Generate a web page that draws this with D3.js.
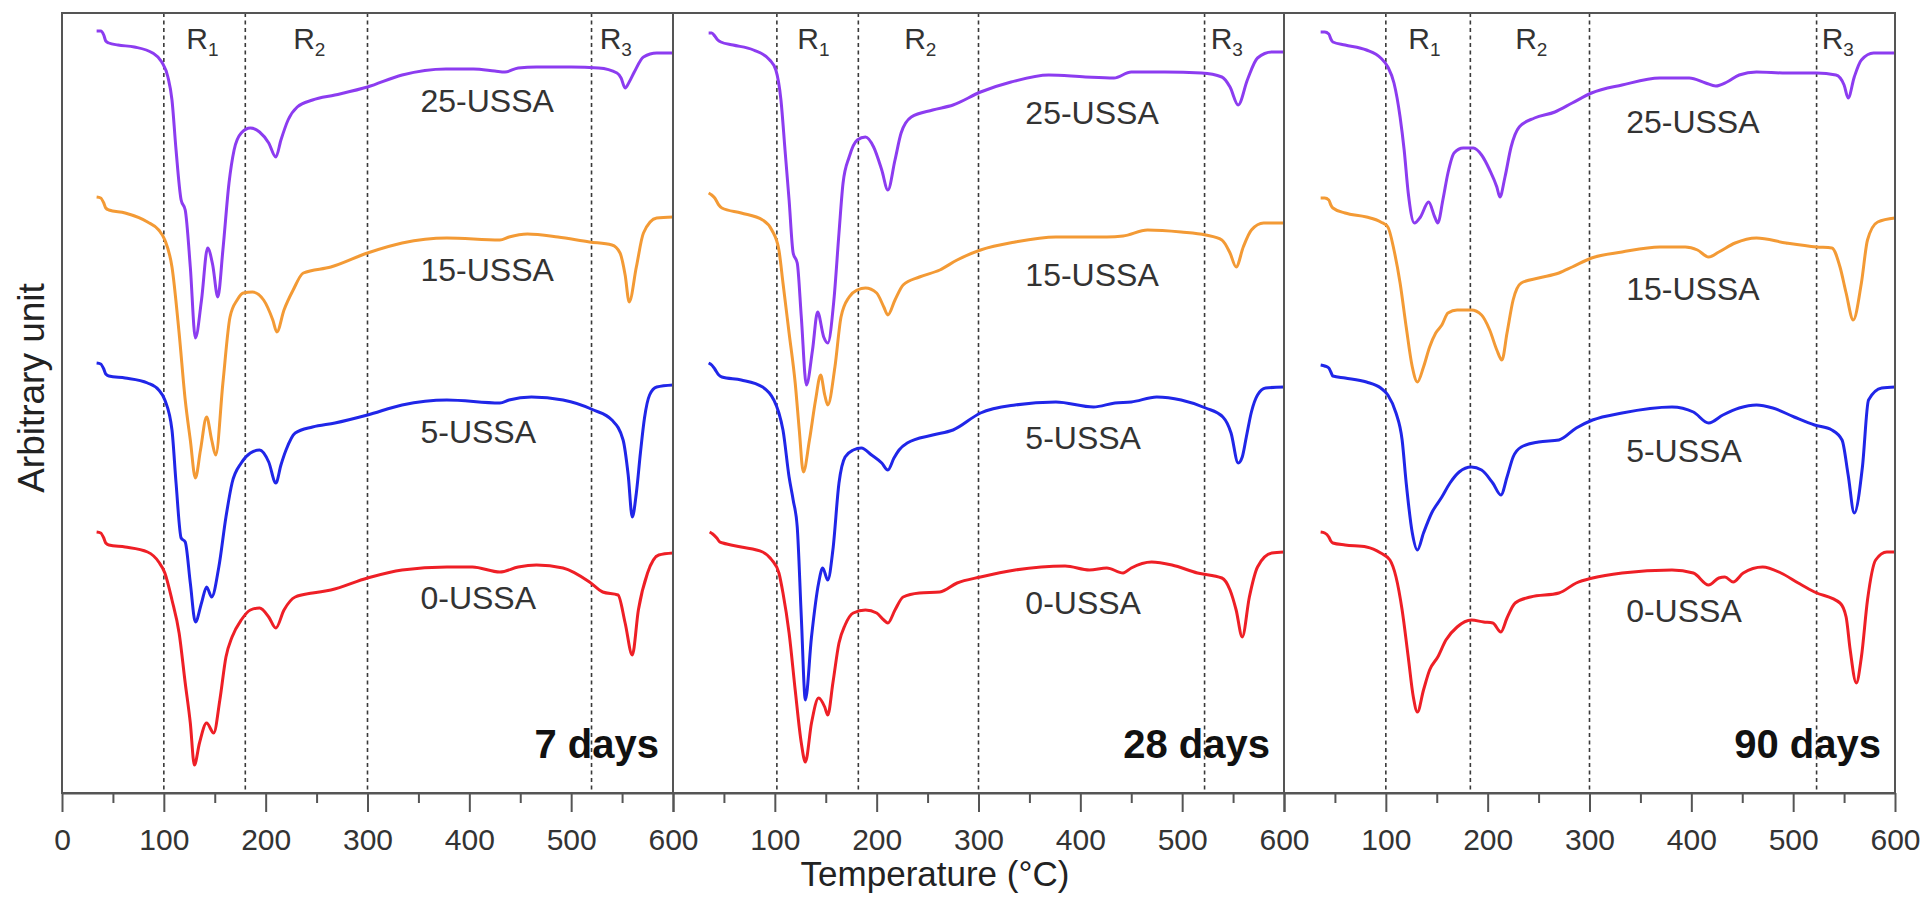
<!DOCTYPE html>
<html>
<head>
<meta charset="utf-8">
<script src="https://cdn.jsdelivr.net/npm/d3@7"></script>
<style>
  body { margin: 0; background: #fff; }
  svg { display: block; }
  text { font-family: "Liberation Sans", Arial, Helvetica, sans-serif; }
</style>
</head>
<body>
<svg id="chart" width="1927" height="915"></svg>
<script>
// ---- tick values and labels ----
const xMajor = [0, 100, 200, 300, 400, 500, 600];
const xMinor = [50, 150, 250, 350, 450, 550];
const panelTitles = ["7 days", "28 days", "90 days"];
const seriesNames = ["0-USSA", "5-USSA", "15-USSA", "25-USSA"];
const seriesColors = ["#ee1f26", "#2026e8", "#f39a35", "#8c3cf0"];

// temperature boundaries of the decomposition regions in each panel
const regionLines = [[100, 180, 300, 520], [102, 182, 300, 522], [100, 183, 300, 523]];
const regionSubs = ["1", "2", "3"];
const regionLabelT = [122, 227, 528];

// ---- DTG curves: [temperature °C, arbitrary unit] ----
const d7_0 = [[34,261],[38,260],[41,255],[43,250],[46,248],[62,246],[84,241],[95,231],[101,220],[108,193],[115,160],[121,110],[126,70],[130,28],[135,50],[142,70],[149,60],[155,93],[161,136],[167,156],[176,173],[185,183],[194,185],[203,176],[210,165],[218,183],[229,196],[246,200],[264,203],[300,215],[334,223],[378,226],[403,226],[430,221],[448,226],[466,228],[492,225],[518,211],[531,201],[546,198],[553,170],[560,138],[566,183],[575,220],[586,238],[600,240]];
const d7_5 = [[34,430],[38,429],[41,424],[43,419],[46,417],[62,415],[84,410],[95,403],[101,393],[108,363],[112,310],[117,255],[121,251],[126,210],[131,171],[137,190],[142,206],[147,196],[154,226],[161,276],[167,310],[176,330],[185,340],[194,343],[203,331],[210,310],[215,328],[220,343],[229,360],[246,366],[268,370],[300,378],[334,388],[378,393],[430,390],[439,393],[461,396],[492,393],[522,383],[540,373],[551,353],[556,318],[560,276],[564,300],[568,340],[572,375],[577,398],[584,406],[600,408]];
const d7_15 = [[34,596],[38,595],[41,590],[43,585],[46,583],[62,580],[84,571],[95,563],[101,553],[108,526],[115,460],[121,393],[126,353],[131,315],[136,343],[142,376],[147,353],[151,338],[158,410],[165,476],[172,493],[178,500],[187,501],[198,493],[207,473],[211,461],[218,483],[227,503],[237,520],[264,526],[300,540],[334,550],[378,555],[430,553],[439,556],[457,559],[487,556],[518,551],[540,548],[548,540],[553,518],[557,491],[564,526],[571,560],[584,575],[600,576]];
const d7_25 = [[34,762],[38,762],[41,758],[43,752],[46,750],[55,748],[71,746],[89,740],[98,731],[104,716],[108,693],[112,643],[117,593],[121,583],[126,526],[131,455],[137,493],[143,545],[148,528],[153,496],[158,543],[164,610],[169,643],[176,660],[185,665],[194,661],[203,650],[210,636],[215,653],[222,673],[231,686],[246,693],[268,698],[300,706],[334,718],[377,724],[404,724],[425,722],[435,721],[448,725],[466,726],[500,726],[527,725],[545,720],[549,715],[553,705],[557,711],[562,721],[571,736],[584,740],[600,740]];

const d28_0 = [[36,261],[39,259],[43,255],[46,251],[49,250],[67,246],[88,241],[97,233],[104,220],[108,200],[114,160],[120,103],[126,50],[130,31],[136,70],[143,95],[149,86],[152,78],[157,110],[163,150],[169,168],[177,180],[189,183],[200,180],[207,173],[211,170],[218,183],[226,196],[242,200],[262,201],[279,210],[302,216],[336,223],[385,227],[409,223],[426,225],[442,220],[450,225],[470,231],[490,228],[515,220],[539,215],[547,203],[553,183],[559,156],[566,196],[574,226],[588,240],[600,241]];
const d28_5 = [[35,430],[38,428],[41,424],[45,418],[48,416],[67,413],[88,406],[99,393],[104,380],[108,363],[114,316],[118,293],[122,266],[126,176],[130,93],[136,156],[143,210],[147,225],[152,213],[157,243],[163,310],[169,336],[177,343],[185,345],[195,338],[205,330],[211,323],[217,335],[222,343],[230,350],[255,358],[275,363],[302,380],[336,388],[376,391],[413,386],[434,390],[450,391],[475,396],[499,393],[523,385],[540,376],[548,360],[555,330],[559,336],[563,356],[568,381],[574,398],[582,405],[600,406]];
const d28_15 = [[35,600],[38,598],[41,595],[45,588],[48,585],[67,580],[88,573],[97,563],[104,543],[108,510],[114,460],[120,410],[124,363],[128,321],[134,353],[140,393],[145,418],[149,398],[152,388],[159,426],[165,476],[173,496],[181,503],[189,505],[200,500],[207,486],[211,478],[218,493],[226,508],[242,516],[262,523],[279,533],[302,543],[336,551],[376,556],[426,556],[442,557],[466,563],[499,561],[523,558],[539,553],[547,540],[553,526],[560,546],[568,563],[580,570],[600,570]];
const d28_25 = [[35,760],[38,760],[41,757],[44,753],[47,751],[59,748],[79,743],[95,733],[101,723],[106,693],[110,643],[114,593],[118,540],[122,530],[126,476],[131,408],[137,443],[142,481],[148,456],[152,450],[158,493],[163,560],[167,610],[173,636],[181,653],[189,656],[197,646],[205,623],[211,603],[218,633],[224,660],[234,676],[255,683],[275,688],[302,701],[332,711],[369,718],[405,716],[433,715],[450,721],[483,721],[519,720],[539,716],[547,706],[555,688],[564,713],[574,735],[588,741],[600,741]];

const d90_0 = [[36,261],[40,260],[44,256],[46,252],[48,250],[60,248],[81,246],[95,240],[104,233],[110,216],[116,183],[122,136],[127,96],[131,81],[137,103],[143,123],[151,136],[159,153],[170,166],[184,173],[196,171],[205,170],[213,161],[219,175],[227,190],[242,196],[270,200],[287,210],[303,215],[332,220],[381,223],[402,220],[417,208],[427,215],[433,216],[441,211],[451,220],[470,226],[488,220],[505,210],[521,201],[546,190],[552,176],[556,143],[562,110],[567,136],[573,193],[581,233],[592,241],[600,241]];
const d90_5 = [[36,428],[40,427],[44,425],[46,421],[48,417],[60,415],[81,411],[95,405],[102,398],[110,380],[116,353],[120,310],[126,260],[131,243],[137,260],[145,280],[155,296],[163,310],[172,321],[184,326],[194,323],[205,310],[213,298],[219,316],[225,336],[233,346],[250,351],[270,353],[287,365],[303,373],[332,380],[381,386],[402,381],[417,370],[431,378],[447,385],[464,388],[480,385],[501,376],[521,368],[538,363],[548,353],[554,318],[560,280],[568,326],[574,393],[587,405],[600,406]];
const d90_15 = [[36,595],[40,595],[44,593],[46,588],[48,585],[60,580],[81,576],[95,571],[102,566],[108,543],[114,510],[120,466],[126,426],[131,411],[137,426],[143,446],[149,460],[155,468],[161,480],[170,483],[184,483],[194,478],[202,463],[209,443],[214,433],[219,460],[225,493],[233,510],[250,515],[270,520],[283,526],[302,535],[332,541],[369,546],[394,546],[406,543],[417,536],[427,541],[443,550],[464,555],[493,550],[523,546],[538,545],[546,526],[552,500],[559,473],[567,510],[573,553],[583,571],[600,575]];
const d90_25 = [[36,761],[40,761],[44,759],[46,754],[48,751],[60,748],[81,743],[95,735],[102,726],[108,710],[114,676],[118,643],[122,600],[128,570],[134,576],[142,591],[148,576],[151,570],[156,593],[161,620],[167,640],[176,645],[186,645],[194,638],[202,623],[209,606],[212,596],[217,616],[223,646],[231,666],[246,675],[266,681],[283,690],[302,700],[332,708],[369,715],[398,715],[414,710],[424,707],[435,711],[447,718],[464,721],[493,720],[523,720],[542,718],[550,708],[554,695],[560,716],[567,733],[579,740],[600,740]];

const panelSeries = [
  [d7_0, d7_5, d7_15, d7_25],
  [d28_0, d28_5, d28_15, d28_25],
  [d90_0, d90_5, d90_15, d90_25]
];

// ---- layout ----
const plotLeft = 62, plotRight = 1895, plotTop = 13, plotBottom = 793;
const panelW = (plotRight - plotLeft) / 3;
const labelT = [352, 346, 336];      // temperature where the series names start
const labelDrop = [29, 34, 38];      // px below the curve for the series names
const axisColor = "#555";

const svg = d3.select("#chart");
svg.append("rect").attr("width", 1927).attr("height", 915).attr("fill", "#fff");

const y = d3.scaleLinear().domain([0, 780]).range([plotBottom, plotTop]);

panelTitles.forEach((title, p) => {
  const x0 = plotLeft + p * panelW;
  const x = d3.scaleLinear().domain([0, 600]).range([x0, x0 + panelW]);
  const g = svg.append("g");

  // dashed region boundaries
  g.selectAll("line.region").data(regionLines[p]).join("line")
    .attr("x1", d => x(d)).attr("x2", d => x(d))
    .attr("y1", plotTop).attr("y2", plotBottom)
    .attr("stroke", "#3a3a3a").attr("stroke-width", 1.6)
    .attr("stroke-dasharray", "4,3.5");

  // region names R1, R2, R3
  const rl = g.selectAll("text.region").data(regionSubs).join("text")
    .attr("x", (d, i) => x(regionLabelT[i])).attr("y", 49)
    .attr("font-size", 30).attr("fill", "#333");
  rl.append("tspan").text("R");
  rl.append("tspan").attr("dy", 7).attr("font-size", 19).text(d => d);

  // curves
  const line = d3.line().x(d => x(d[0])).y(d => y(d[1])).curve(d3.curveMonotoneX);
  panelSeries[p].forEach((s, i) => {
    g.append("path").datum(s)
      .attr("d", line)
      .attr("fill", "none")
      .attr("stroke", seriesColors[i])
      .attr("stroke-width", 3)
      .attr("stroke-linejoin", "round");
  });

  // series names placed beneath each curve
  const bis = d3.bisector(d => d[0]).left;
  panelSeries[p].forEach((s, i) => {
    const k = bis(s, labelT[p]);
    const a = s[k - 1], b = s[k];
    const v = a[1] + (b[1] - a[1]) * (labelT[p] - a[0]) / (b[0] - a[0]);
    g.append("text")
      .attr("x", x(labelT[p]))
      .attr("y", y(v) + labelDrop[p] + 11)
      .attr("font-size", 32).attr("fill", "#333")
      .text(seriesNames[i]);
  });

  // curing age
  g.append("text")
    .attr("x", x(600) - 14).attr("y", 758)
    .attr("text-anchor", "end")
    .attr("font-size", 40).attr("font-weight", "bold").attr("fill", "#111")
    .text(title);

  // x axis
  const ax = d3.axisBottom(x).tickValues(xMajor).tickSize(19).tickSizeOuter(0).tickPadding(17)
    .tickFormat(d => (p > 0 && d === 0) ? "" : d3.format("d")(d));
  const axG = g.append("g").attr("transform", `translate(0,${plotBottom})`).call(ax);
  axG.select(".domain").attr("stroke", axisColor).attr("stroke-width", 2);
  axG.selectAll(".tick line").attr("stroke", axisColor).attr("stroke-width", 2);
  axG.selectAll(".tick text").attr("font-size", 30).attr("fill", "#333")
    .attr("font-family", "'Liberation Sans', Arial, sans-serif");

  const axMinor = d3.axisBottom(x).tickValues(xMinor).tickSize(10).tickSizeOuter(0).tickFormat("");
  const mG = g.append("g").attr("transform", `translate(0,${plotBottom})`).call(axMinor);
  mG.select(".domain").remove();
  mG.selectAll(".tick line").attr("stroke", axisColor).attr("stroke-width", 2);

  // panel frame
  g.append("rect")
    .attr("x", x0).attr("y", plotTop)
    .attr("width", panelW).attr("height", plotBottom - plotTop)
    .attr("fill", "none").attr("stroke", axisColor).attr("stroke-width", 2);
});

// axis titles
svg.append("text")
  .attr("x", 935).attr("y", 886)
  .attr("text-anchor", "middle").attr("font-size", 35).attr("fill", "#222")
  .text("Temperature (°C)");

svg.append("text")
  .attr("transform", "translate(44,388) rotate(-90)")
  .attr("text-anchor", "middle").attr("font-size", 37).attr("fill", "#222")
  .text("Arbitrary unit");
</script>
</body>
</html>
